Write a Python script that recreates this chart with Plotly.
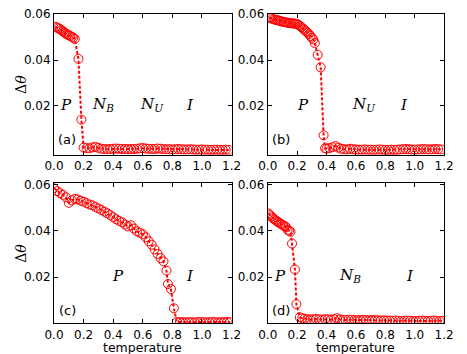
import plotly.graph_objects as go

# ── data ────────────────────────────────────────────────────
# panel (a)
xa = [0.01, 0.02, 0.03, 0.04, 0.05, 0.06, 0.07, 0.08, 0.09, 0.10, 0.11, 0.12, 0.13, 0.14,
      0.165, 0.185,
      0.20, 0.22, 0.24, 0.26, 0.28, 0.30, 0.32, 0.34, 0.36, 0.38,
      0.40, 0.42, 0.44, 0.46, 0.48, 0.50, 0.52, 0.54, 0.56, 0.58,
      0.60, 0.62, 0.64, 0.66, 0.68, 0.70, 0.72, 0.74, 0.76, 0.78,
      0.80, 0.82, 0.84, 0.86, 0.88, 0.90, 0.92, 0.94, 0.96, 0.98,
      1.00, 1.02, 1.04, 1.06, 1.08, 1.10, 1.12, 1.14, 1.16, 1.18]
ya = [0.0545, 0.0541, 0.0538, 0.0535, 0.0530, 0.0525, 0.0520, 0.0515, 0.0511, 0.0508, 0.0505, 0.0501, 0.0498, 0.0492,
      0.0405, 0.0140,
      0.0018, 0.0016, 0.0015, 0.0019, 0.0021, 0.0017, 0.0013, 0.0012, 0.0011, 0.0012,
      0.0013, 0.0014, 0.0013, 0.0012, 0.0012, 0.0011, 0.0012, 0.0012, 0.0013, 0.0015,
      0.0016, 0.0014, 0.0013, 0.0012, 0.0012, 0.0014, 0.0013, 0.0012, 0.0011, 0.0011,
      0.0010, 0.0011, 0.0012, 0.0011, 0.0010, 0.0010, 0.0011, 0.0010, 0.0009, 0.0009,
      0.0010, 0.0009, 0.0009, 0.0008, 0.0009, 0.0009, 0.0008, 0.0008, 0.0009, 0.0008]

# panel (b)
xb = [0.01, 0.02, 0.03, 0.04, 0.05, 0.06, 0.07, 0.08, 0.09, 0.10,
      0.11, 0.12, 0.13, 0.14, 0.15, 0.16, 0.17, 0.18, 0.19, 0.20,
      0.21, 0.22, 0.23, 0.24, 0.25, 0.26, 0.27, 0.28, 0.29, 0.30,
      0.31, 0.32, 0.34, 0.36, 0.38, 0.39,
      0.40, 0.42, 0.44, 0.46, 0.48, 0.50, 0.52, 0.54, 0.56, 0.58,
      0.60, 0.62, 0.64, 0.66, 0.68, 0.70, 0.72, 0.74, 0.76, 0.78,
      0.80, 0.82, 0.84, 0.86, 0.88, 0.90, 0.92, 0.94, 0.96, 0.98,
      1.00, 1.02, 1.04, 1.06, 1.08, 1.10, 1.12, 1.14, 1.16, 1.18]
yb = [0.0585, 0.0583, 0.0580, 0.0578, 0.0576, 0.0574, 0.0573, 0.0571, 0.0569, 0.0567,
      0.0566, 0.0565, 0.0563, 0.0562, 0.0561, 0.0560, 0.0560, 0.0559, 0.0558, 0.0557,
      0.0553, 0.0548, 0.0543, 0.0537, 0.0531, 0.0526, 0.0520, 0.0513, 0.0505, 0.0497,
      0.0490, 0.0474, 0.0422, 0.0368, 0.0072, 0.0015,
      0.0014, 0.0016, 0.0020, 0.0025, 0.0018, 0.0013, 0.0011, 0.0010, 0.0013, 0.0011,
      0.0010, 0.0009, 0.0009, 0.0010, 0.0009, 0.0009, 0.0008, 0.0009, 0.0010, 0.0009,
      0.0008, 0.0008, 0.0009, 0.0008, 0.0009, 0.0010, 0.0011, 0.0012, 0.0011, 0.0010,
      0.0009, 0.0010, 0.0011, 0.0012, 0.0011, 0.0010, 0.0011, 0.0012, 0.0011, 0.0010]

# panel (c)
xc = [0.00, 0.02, 0.04, 0.06, 0.08, 0.10, 0.12, 0.14, 0.16, 0.18,
      0.20, 0.22, 0.24, 0.26, 0.28, 0.30, 0.32, 0.34, 0.36, 0.38,
      0.40, 0.42, 0.44, 0.46, 0.48, 0.50, 0.52, 0.54, 0.56, 0.58,
      0.60, 0.62, 0.64, 0.66, 0.68, 0.70, 0.72, 0.74, 0.76, 0.77,
      0.79, 0.81, 0.83,
      0.85, 0.87, 0.89, 0.91, 0.93, 0.95, 0.97, 0.99, 1.01, 1.03,
      1.05, 1.07, 1.09, 1.11, 1.13, 1.15, 1.17, 1.19]
yc = [0.0585, 0.0572, 0.0563, 0.0556, 0.0545, 0.0521, 0.0532, 0.0538, 0.0536, 0.0530,
      0.0526, 0.0520, 0.0514, 0.0510, 0.0503, 0.0497, 0.0490, 0.0483, 0.0476, 0.0468,
      0.0459, 0.0450, 0.0443, 0.0437, 0.0427, 0.0419, 0.0424, 0.0410, 0.0398, 0.0392,
      0.0385, 0.0372, 0.0355, 0.0340, 0.0320, 0.0300, 0.0282, 0.0268, 0.0228, 0.0170,
      0.0148, 0.0065, 0.0006,
      0.0005, 0.0005, 0.0004, 0.0005, 0.0005, 0.0004, 0.0005, 0.0006, 0.0005, 0.0004,
      0.0005, 0.0006, 0.0005, 0.0004, 0.0005, 0.0005, 0.0006, 0.0005]

# panel (d)
xd = [0.005, 0.015, 0.025, 0.035, 0.045, 0.055, 0.065, 0.075, 0.085, 0.095,
      0.105, 0.115, 0.125, 0.135, 0.145, 0.155, 0.165, 0.185, 0.195, 0.218, 0.235,
      0.25, 0.27, 0.29, 0.31, 0.33, 0.35, 0.37, 0.39, 0.41, 0.43,
      0.45, 0.47, 0.49, 0.51, 0.53, 0.55, 0.57, 0.59, 0.61, 0.63,
      0.65, 0.67, 0.69, 0.71, 0.73, 0.75, 0.77, 0.79, 0.81, 0.83,
      0.85, 0.87, 0.89, 0.91, 0.93, 0.95, 0.97, 0.99, 1.01, 1.03,
      1.05, 1.07, 1.09, 1.11, 1.13, 1.15, 1.17, 1.19]
yd = [0.0475, 0.0468, 0.0462, 0.0455, 0.0450, 0.0445, 0.0440, 0.0436, 0.0432, 0.0428,
      0.0424, 0.0420, 0.0416, 0.0404, 0.0400, 0.0396, 0.0345, 0.0233, 0.0083, 0.0026, 0.0022,
      0.0020, 0.0018, 0.0016, 0.0018, 0.0019, 0.0017, 0.0016, 0.0018, 0.0017, 0.0016,
      0.0018, 0.0022, 0.0017, 0.0015, 0.0014, 0.0016, 0.0015, 0.0014, 0.0013, 0.0014,
      0.0015, 0.0014, 0.0013, 0.0014, 0.0014, 0.0013, 0.0012, 0.0013, 0.0012, 0.0012,
      0.0011, 0.0012, 0.0011, 0.0010, 0.0011, 0.0012, 0.0011, 0.0010, 0.0010, 0.0011,
      0.0012, 0.0011, 0.0010, 0.0011, 0.0012, 0.0011, 0.0010, 0.0011]

# phase labels per panel: (x, label)
phases_a = [(0.08, "P"), (0.33, "N<sub>B</sub>"), (0.66, "N<sub>U</sub>"), (0.92, "I")]
phases_b = [(0.24, "P"), (0.655, "N<sub>U</sub>"), (0.925, "I")]
phases_c = [(0.435, "P"), (0.92, "I")]
phases_d = [(0.08, "P"), (0.56, "N<sub>B</sub>"), (0.97, "I")]

W, H = 467, 354
RED = "#ff0000"

# panel geometry in pixels: (left, right, top, bottom)
panels = [
    ("(a)", xa, ya, phases_a, (46, 231.5, 7.3, 150.7), [-0.0013, 0.06]),
    ("(b)", xb, yb, phases_b, (269.3, 453.5, 7.3, 150.7), [-0.0013, 0.06]),
    ("(c)", xc, yc, phases_c, (46, 231.5, 180, 322.7), [0, 0.0605]),
    ("(d)", xd, yd, phases_d, (269.3, 453.5, 180, 322.7), [0, 0.0605]),
]

fig = go.Figure()
tickfont = dict(family="DejaVu Sans", size=12, color="black")

for i, (tag, xs, ys, phases, (l, r, t, b), yr) in enumerate(panels):
    n = "" if i == 0 else str(i + 1)
    xref, yref = "x" + n, "y" + n
    fig.add_trace(go.Scatter(
        x=xs, y=ys, mode="lines+markers", xaxis=xref, yaxis=yref,
        line=dict(color=RED, width=2, dash="3px,2px"),
        marker=dict(symbol="circle-open", size=9, color=RED, line=dict(width=1)),
        showlegend=False))

    common = dict(showline=True, linecolor="black", linewidth=1, mirror="ticks",
                  ticks="inside", ticklen=4, tickcolor="black", showgrid=False,
                  zeroline=False, tickfont=tickfont)
    fig.update_layout({
        "xaxis" + n: dict(domain=[l / W, r / W], range=[0, 1.2], anchor=yref,
                          tickvals=[0, 0.2, 0.4, 0.6, 0.8, 1.0, 1.2],
                          ticktext=["0.0", "0.2", "0.4", "0.6", "0.8", "1.0", "1.2"],
                          **common),
        "yaxis" + n: dict(domain=[1 - b / H, 1 - t / H], range=yr, anchor=xref,
                          tickvals=[0.02, 0.04, 0.06],
                          ticktext=["0.02", "0.04", "0.06"], **common),
    })

    # axis titles as annotations so they sit where the reference has them
    if i >= 2:
        fig.add_annotation(x=(l + r) / 2 / W, y=1 - 347 / H, xref="paper", yref="paper",
                           xanchor="center", yanchor="middle",
                           text="temperature", showarrow=False,
                           font=dict(family="DejaVu Sans", size=12.5, color="black"))
    if i % 2 == 0:
        fig.add_annotation(x=12 / W, y=1 - (t + b) / 2 / H, xref="paper", yref="paper",
                           xanchor="center", yanchor="middle",
                           text="Δ<i>θ</i>", showarrow=False, textangle=-90,
                           font=dict(family="DejaVu Serif", size=14, color="black"))

    for px, lab in phases:
        fig.add_annotation(x=px, y=0.0205, xref=xref, yref=yref, text="<i>" + lab + "</i>",
                           showarrow=False,
                           font=dict(family="DejaVu Serif", size=15, color="black"))
    fig.add_annotation(x=0.09, y=0.0055, xref=xref, yref=yref, text=tag, showarrow=False,
                       font=dict(family="DejaVu Sans", size=13, color="black"))

fig.update_layout(width=W, height=H, margin=dict(l=0, r=0, t=0, b=0),
                  paper_bgcolor="white", plot_bgcolor="white")

# drop the browser's default body margin so the figure sits at (0, 0)
fig.write_html("out.html", config={"displayModeBar": False},
               post_script="document.body.style.margin='0';")
